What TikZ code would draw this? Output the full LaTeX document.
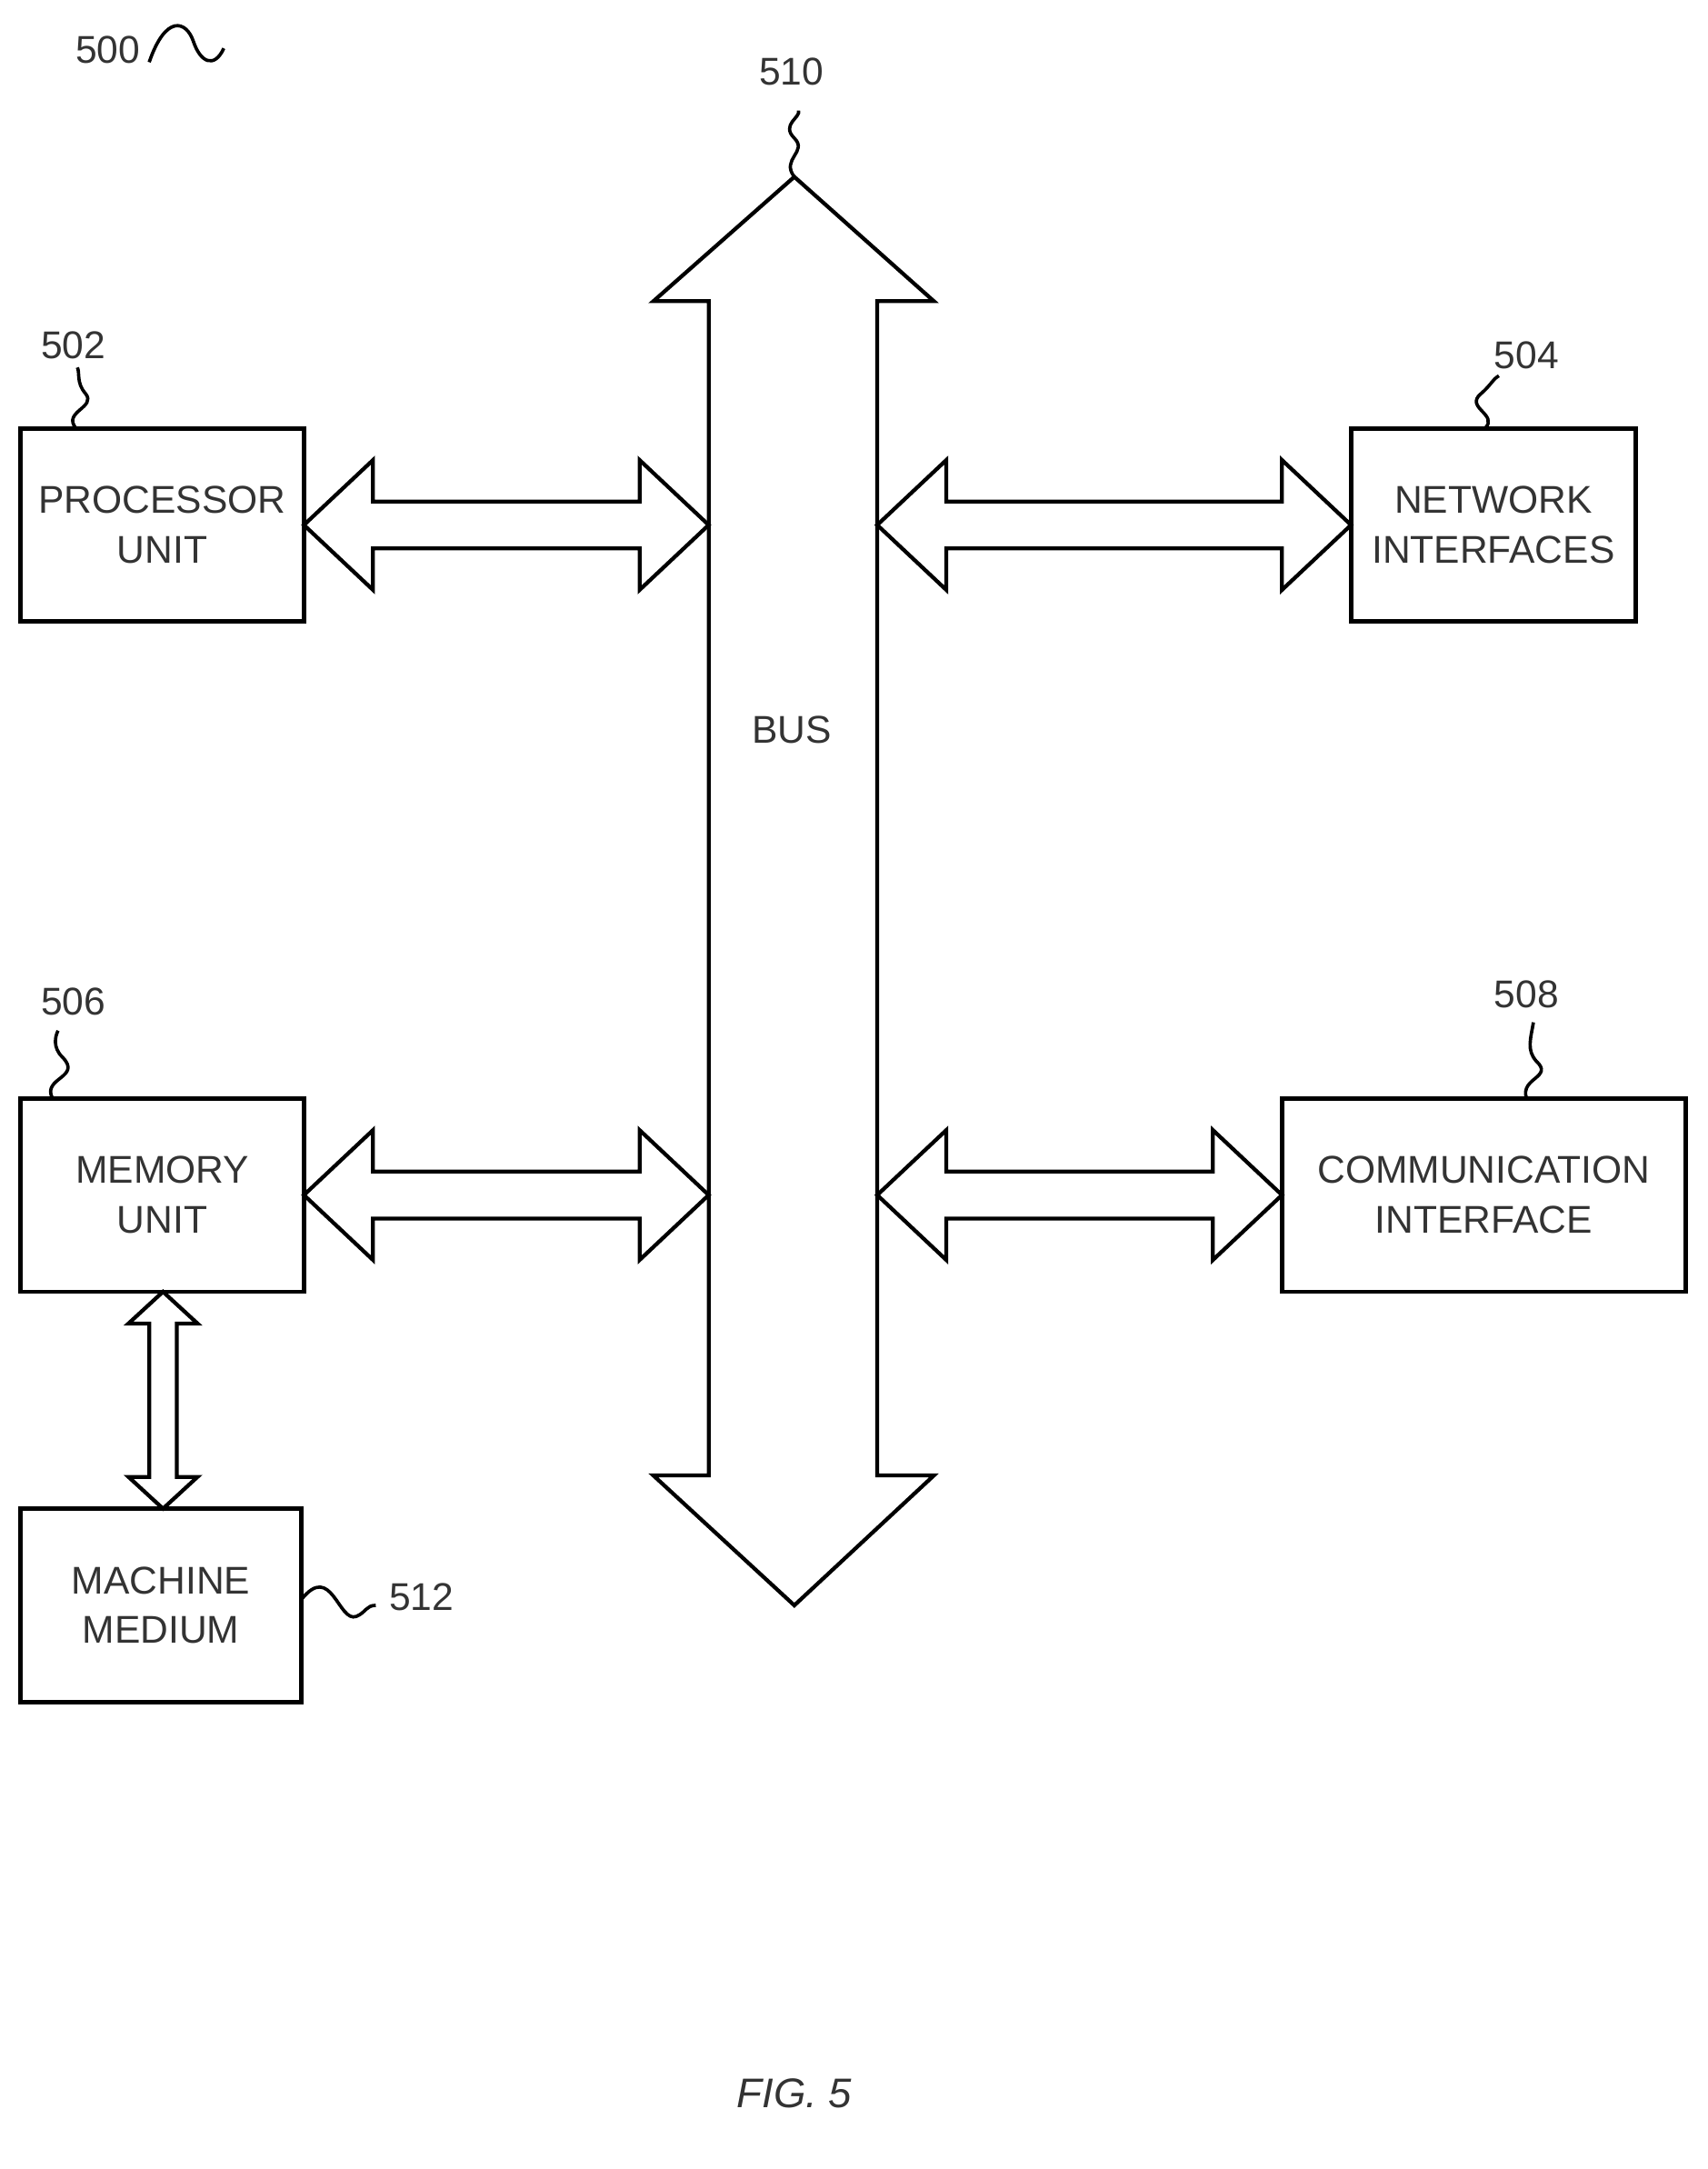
\documentclass[tikz,border=0pt]{standalone}
\usepackage{fontspec}
\setmainfont{Liberation Sans}
\begin{document}
\begin{tikzpicture}[x=0.5pt,y=-0.5pt,
  box/.style={draw,line width=1.6pt,minimum width=#1*0.5pt,minimum height=70pt,inner sep=0pt,align=center,font=\fontsize{14}{18}\selectfont,text=black!80},
  arr/.style={draw,line width=1.4pt,fill=white,line join=miter},
  lab/.style={font=\fontsize{14}{16}\selectfont,text=black!80},
  sq/.style={draw,line width=1.2pt}]
\useasboundingbox (0,0) rectangle (1236,1570);
% bus
\path[arr] (575,128) -- (676,218) -- (635,218) -- (635,1068) -- (676,1068) -- (575,1162) -- (473,1068) -- (513,1068) -- (513,218) -- (473,218) -- cycle;
\node[lab] (bus) at (573,528) {BUS};
% boxes
\node[box=205] (proc) at (117.5,380) {PROCESSOR\\UNIT};
\node[box=206] (net) at (1081,380) {NETWORK\\INTERFACES};
\node[box=205] (mem) at (117.5,865) {MEMORY\\UNIT};
\node[box=292] (comm) at (1074,865) {COMMUNICATION\\INTERFACE};
\node[box=203] (mach) at (116.5,1162) {MACHINE\\MEDIUM};
% horizontal double arrows
\foreach \a/\b/\y in {220/513/380, 635/978/380, 220/513/865, 635/928/865}{
  \path[arr] (\a,\y) -- (\a+50,\y-47) -- (\a+50,\y-17) -- (\b-50,\y-17) -- (\b-50,\y-47) -- (\b,\y)
   -- (\b-50,\y+47) -- (\b-50,\y+17) -- (\a+50,\y+17) -- (\a+50,\y+47) -- cycle;
}
% vertical double arrow
\path[arr] (118,935) -- (143,958) -- (128,958) -- (128,1069) -- (143,1069) -- (118,1092) -- (93,1069) -- (108,1069) -- (108,958) -- (93,958) -- cycle;
% labels
\node[lab] (l500) at (78,36) {500};
\draw[sq] (108,45) .. controls (120,10) and (135,15) .. (140,30) .. controls (145,45) and (155,50) .. (162,35);
\node[lab] (l510) at (573,52) {510};
\draw[sq] (575,128) .. controls (565,115) and (585,110) .. (575,100) .. controls (565,90) and (580,85) .. (578,80);
\node[lab] (l502) at (53,250) {502};
\draw[sq] (55,310) .. controls (45,298) and (70,295) .. (62,285) .. controls (55,277) and (58,270) .. (56,266);
\node[lab] (l504) at (1105,257) {504};
\draw[sq] (1075,310) .. controls (1085,300) and (1060,295) .. (1072,285) .. controls (1080,278) and (1080,275) .. (1085,272);
\node[lab] (l506) at (53,725) {506};
\draw[sq] (38,795) .. controls (30,780) and (60,780) .. (45,765) .. controls (38,758) and (40,750) .. (42,746);
\node[lab] (l508) at (1105,720) {508};
\draw[sq] (1105,795) .. controls (1100,780) and (1125,780) .. (1112,768) .. controls (1105,760) and (1108,752) .. (1110,740);
\node[lab] (l512) at (305,1156) {512};
\draw[sq] (218,1158) .. controls (240,1130) and (245,1175) .. (258,1170) .. controls (265,1167) and (265,1162) .. (272,1162);
\node[font=\fontsize{15}{18}\selectfont\itshape,text=black!80] (fig) at (575,1515) {FIG. 5};
\end{tikzpicture}
\end{document}
